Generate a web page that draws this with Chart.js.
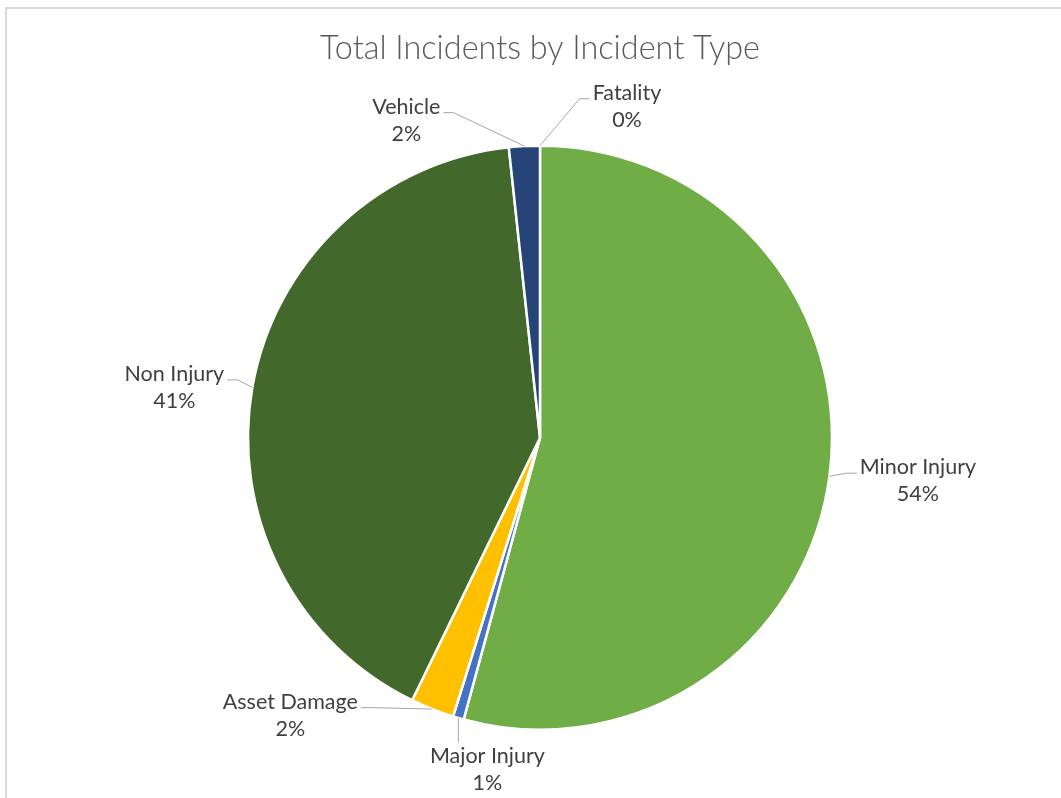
<!DOCTYPE html>
<html><head><meta charset="utf-8">
<script src="https://cdn.jsdelivr.net/npm/chart.js@4"></script>
<style>
html,body{margin:0;padding:0;background:#fff;overflow:hidden;}
#wrap{position:relative;width:1061px;height:798px;overflow:hidden;}
#frame{position:absolute;left:5px;top:7px;width:1100px;height:900px;border-left:2px solid #d9d9d9;border-top:2px solid #d9d9d9;}
canvas{position:absolute;left:0;top:0;}
</style></head><body>
<div id="wrap"><div id="frame"></div><canvas id="c" width="1061" height="798"></canvas></div>
<script>
const titleText = 'Total Incidents by Incident Type';
const categories = ['Minor Injury','Major Injury','Asset Damage','Non Injury','Vehicle','Fatality'];
const shares = [54.1, 0.6, 2.4, 41.0, 1.7, 0];
const sliceColors = ['#70AD47','#4472C4','#FFC000','#43682B','#264478','#9E480E'];

// label placement relative to each slice's outer mid-point
const labelLayout = [
  {dx: 88.5, dy: 4.5, side: 'left'},
  {dx: 29, dy: 52, side: 'top'},
  {dx: -142, dy: 6, side: 'right'},
  {dx: -78, dy: 0, side: 'right'},
  {dx: -118, dy: -26, side: 'right'},
  {dx: 87, dy: -39.5, side: 'left'}
];

const leaderPlugin = {
  id: 'leaders',
  afterDatasetsDraw(chart) {
    const ctx = chart.ctx;
    const meta = chart.getDatasetMeta(0);
    const data = chart.data.datasets[0].data;
    const total = data.reduce((a, b) => a + b, 0);
    ctx.save();
    ctx.font = '21.5px Lato';
    ctx.textAlign = 'center';
    ctx.textBaseline = 'middle';
    meta.data.forEach((el, i) => {
      const p = el.getProps(['x','y','startAngle','endAngle','outerRadius'], true);
      const mid = (p.startAngle + p.endAngle) / 2;
      const ax = p.x + Math.cos(mid) * p.outerRadius;
      const ay = p.y + Math.sin(mid) * p.outerRadius;
      const L = labelLayout[i];
      const cx = ax + L.dx, cy = ay + L.dy;
      const line1 = chart.data.labels[i];
      const line2 = Math.round(data[i] / total * 100) + '%';
      const w = Math.max(ctx.measureText(line1).width, ctx.measureText(line2).width);
      const y1 = cy - 13.5, y2 = cy + 13.5;
      ctx.strokeStyle = '#A6A6A6';
      ctx.lineWidth = 1;
      ctx.beginPath();
      ctx.moveTo(ax, ay);
      if (L.side === 'top') {
        ctx.lineTo(ax, y1 - 14);
      } else if (L.side === 'left') {
        const ex = cx - w / 2 - 3, ey = y1 + 6;
        ctx.lineTo(ex - 10, ey);
        ctx.lineTo(ex, ey);
      } else {
        const ex = cx + w / 2 + 3, ey = y1 + 6;
        ctx.lineTo(ex + 10, ey);
        ctx.lineTo(ex, ey);
      }
      ctx.stroke();
      ctx.fillStyle = '#404040';
      ctx.fillText(line1, cx, y1);
      ctx.fillText(line2, cx, y2);
    });
    ctx.restore();
  }
};

new Chart(document.getElementById('c'), {
  type: 'pie',
  data: {
    labels: categories,
    datasets: [{
      data: shares,
      backgroundColor: sliceColors,
      borderColor: '#ffffff',
      borderWidth: 2.5,
      radius: 292
    }]
  },
  options: {
    responsive: false,
    animation: false,
    layout: {padding: {top: 20, bottom: 0, left: 200, right: 181}},
    plugins: {
      legend: {display: false},
      tooltip: {enabled: false},
      title: {
        display: true,
        text: titleText,
        color: '#595959',
        font: {family: 'Lato', size: 32.4, weight: '300', lineHeight: 1.2},
        padding: {top: 9, bottom: 9.5}
      }
    }
  },
  plugins: [leaderPlugin]
});
</script>
</body></html>
